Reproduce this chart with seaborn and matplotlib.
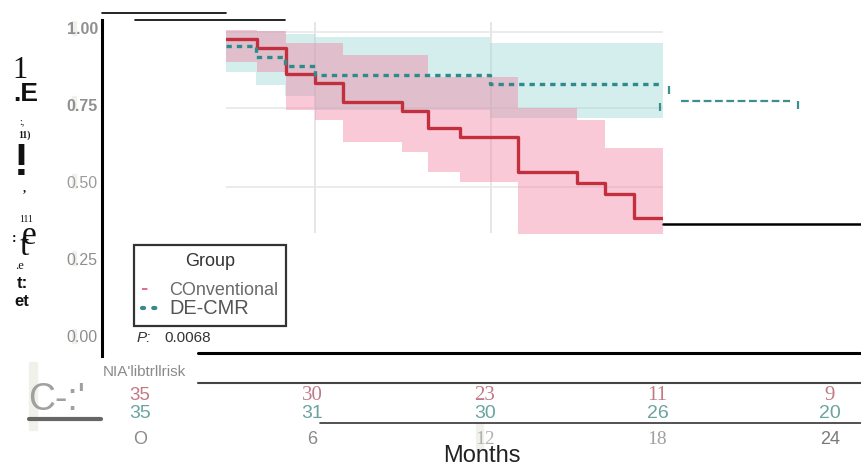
import matplotlib
matplotlib.use("Agg")
import matplotlib.pyplot as plt
from matplotlib.lines import Line2D
from matplotlib.patches import Rectangle
from matplotlib.transforms import blended_transform_factory
import seaborn as sns
import pandas as pd

# ---------------- data ----------------
groups = ["COnventional", "DE-CMR"]

conv_time = [3.0, 4.07, 5.08, 6.09, 7.06, 9.11, 10.02, 11.13, 13.15, 15.2, 16.17, 17.18, 18.2]
conv_surv = [0.964, 0.935, 0.851, 0.821, 0.761, 0.731, 0.674, 0.647, 0.532, 0.498, 0.460, 0.383, 0.383]
conv_upper = [0.994, 0.99, 0.951, 0.951, 0.912, 0.912, 0.84, 0.84, 0.74, 0.70, 0.61, 0.61, 0.61]
conv_lower = [0.89, 0.857, 0.734, 0.701, 0.63, 0.597, 0.532, 0.50, 0.30, 0.28, 0.25, 0.22, 0.22]

decmr_time = [3.0, 4.03, 5.04, 6.09, 12.17, 18.2]
decmr_surv = [0.942, 0.906, 0.877, 0.847, 0.818, 0.818]
decmr_upper = [0.99, 0.99, 0.98, 0.972, 0.951, 0.951]
decmr_lower = [0.857, 0.815, 0.78, 0.735, 0.708, 0.708]

decmr_tail_time = [18.8, 22.6]
decmr_tail_surv = [0.763, 0.763]
decmr_censor_time = [18.1, 18.4, 22.9]
decmr_censor_surv = [0.745, 0.80, 0.75]

risk_times = [0, 6, 12, 18, 24]
conv_risk = [35, 30, 23, 11, 9]
decmr_risk = [35, 31, 30, 26, 20]
xtick_labels = ["O", "6", "12", "18", "24"]
yticks = [0.0, 0.25, 0.5, 0.75, 1.0]
ytick_labels = ["0.00", "0.25", "0.50", "0.75", "1.00"]
p_value = "0.0068"

RED = "#c2303f"
TEAL = "#2e8b8b"

sns.set_theme(style="white")
plt.rcParams["font.family"] = ["Liberation Sans", "DejaVu Sans"]

W, H = 861, 466


def fx(px):
    return px / W


def fy(py):
    return 1 - py / H


fig = plt.figure(figsize=(W / 100, H / 100), dpi=100)
fig.patch.set_facecolor("white")

ax = fig.add_axes([fx(102), fy(356), (861 - 102) / W, (356 - 20) / H])
ax.set_facecolor("none")
ax.set_xlim(-1.3217, 25.078)
ax.set_ylim(-0.0649, 1.026)
for side in ["top", "right", "bottom"]:
    ax.spines[side].set_visible(False)
ax.spines["left"].set_color("black")
ax.spines["left"].set_linewidth(2.2)

# inset panel holding the curves
x0, x1 = conv_time[0], conv_time[-1]
y0, y1 = 0.334, 1.042
clip = Rectangle((x0, y0), x1 - x0, y1 - y0, transform=ax.transData)

ax.vlines([6.1, 12.2], y0, 1.02, color="#e2e2e2", lw=1.2, zorder=0)
ax.hlines([0.987, 0.74, 0.484], x0, x1, color="#e8e8e8", lw=1.2, zorder=0)
ax.hlines([y1], x0, x1, color="#8c8c8c", lw=1.5, zorder=1)

band_t = ax.fill_between(decmr_time, decmr_lower, decmr_upper, step="post",
                         color="#9ad6d6", alpha=0.42, lw=0, zorder=2)
band_c = ax.fill_between(conv_time, conv_lower, conv_upper, step="post",
                         color="#f57fa0", alpha=0.42, lw=0, zorder=2)
band_t.set_clip_path(clip)
band_c.set_clip_path(clip)

df = pd.concat([
    pd.DataFrame({"month": conv_time, "surv": conv_surv, "group": groups[0]}),
    pd.DataFrame({"month": decmr_time, "surv": decmr_surv, "group": groups[1]}),
])
sns.lineplot(data=df, x="month", y="surv", hue="group", style="group",
             palette={groups[0]: RED, groups[1]: TEAL},
             dashes={groups[0]: "", groups[1]: (1.6, 1.5)},
             estimator=None, sort=False, drawstyle="steps-post",
             lw=2.4, legend=False, ax=ax, zorder=3)
for ln in ax.lines[-2:]:
    ln.set_clip_path(clip)

ax.plot(decmr_tail_time, decmr_tail_surv, color="#3d8f8f", lw=1.6,
        ls=(0, (3.5, 1.6)), zorder=3)
ax.scatter(decmr_censor_time, decmr_censor_surv, marker="|", s=30,
           color="#3d8f8f", linewidths=1.6, zorder=3)

ax.set_xlabel("")
ax.set_ylabel("")

# y axis ticks
ax.set_yticks(yticks, labels=ytick_labels)
ax.tick_params(axis="y", length=0, pad=3)
for lab, txt in zip(ax.get_yticklabels(), ytick_labels):
    lab.set_fontsize(11.5)
    lab.set_color("#8e8e8e")
    if txt in ("1.00", "0.75"):
        lab.set_fontweight("bold")
        lab.set_color("#909090")
    if txt == "0.50":
        lab.set_color("#9c9c9c")

# x axis ticks
ax.set_xticks(risk_times, labels=xtick_labels)
ax.tick_params(axis="x", length=0, pad=54)
xt_style = [("Liberation Sans", "#8a8a8a"), ("Liberation Sans", "#8a8a8a"),
            ("Liberation Serif", "#b0b0b0"), ("Liberation Serif", "#a0a0a0"),
            ("Liberation Sans", "#7a7a7a")]
for lab, (fam, col) in zip(ax.get_xticklabels(), xt_style):
    lab.set_fontfamily(fam)
    lab.set_color(col)
    lab.set_fontsize(14 if "Serif" in fam else 13)
ax.set_xlabel("Months", fontsize=17, color="#222222", labelpad=-2)

# numbers at risk
trans = blended_transform_factory(ax.transData, fig.transFigure)
for i, (t, n) in enumerate(zip(risk_times, conv_risk)):
    fam = "Liberation Sans" if i == 0 else "Liberation Serif"
    ax.text(t, fy(396), str(n), transform=trans, ha="center", va="center",
            fontsize=13.5 if i == 0 else 15, family=fam, color="#c27a86")
for t, n in zip(risk_times, decmr_risk):
    ax.text(t, fy(413), str(n), transform=trans, ha="center", va="center",
            fontsize=14, color="#6aa4a0")

fig.text(fx(103), fy(372), "NIA'libtrllrisk", fontsize=11, color="#8a8a8a",
         va="center", ha="left")

# p-value
fig.text(fx(137), fy(338), "P:", fontsize=11, style="italic", color="#333333", va="center")
fig.text(fx(164), fy(338), p_value, fontsize=11, color="#333333", va="center")

# legend
handles = [Line2D([], [], color="#e0607a", lw=1.3, ls=(0, (3, 30))),
           Line2D([], [], color="#3a8a88", lw=3.0, ls=(0, (0.5, 2.2)),
                  dash_capstyle="round")]
leg = ax.legend(handles, groups, title="Group", loc="upper left",
                bbox_to_anchor=(fx(134), fy(245)), bbox_transform=fig.transFigure,
                borderaxespad=0, borderpad=0.42, labelspacing=0.0,
                handletextpad=0.55, handlelength=1.0, fancybox=False,
                title_fontsize=13, fontsize=13)
try:
    leg._legend_box.sep = 9
except AttributeError:
    pass
leg.get_frame().set_edgecolor("black")
leg.get_frame().set_linewidth(1.6)
leg.get_title().set_color("#333333")
leg.get_texts()[0].set_color("#6a6a6a")
leg.get_texts()[1].set_color("#555555")
leg.get_texts()[1].set_fontsize(14.4)

# stray stroke and label fragments along the left edge
frags = [
    ("1", 20, 70, 22, "Liberation Serif", "normal"),
    (".E", 26, 94, 19, "Liberation Sans", "bold"),
    (":,", 22, 122, 7, "Liberation Serif", "normal"),
    ("11)", 24, 135, 7, "Liberation Serif", "bold"),
    ("!", 21, 163, 32, "Liberation Sans", "bold"),
    (",", 24, 188, 9, "Liberation Serif", "bold"),
    ("111", 26, 219, 7, "Liberation Serif", "normal"),
    ("e", 29, 236, 24, "Liberation Serif", "normal"),
    ("t", 24, 247, 24, "Liberation Serif", "normal"),
    (":", 14, 238, 10, "Liberation Serif", "bold"),
    (".e", 20, 266, 9, "Liberation Serif", "normal"),
    ("t:", 22, 284, 12, "Liberation Sans", "bold"),
    ("et", 22, 302, 12, "Liberation Sans", "bold"),
]
for s, px, py, size, fam, wt in frags:
    fig.text(fx(px), fy(py), s, fontsize=size, family=fam, fontweight=wt,
             color="#111111", ha="center", va="center")

fig.text(fx(28), fy(400), "C-:'", fontsize=27, color="#a0a0a0", ha="left", va="center")

# faint highlight strips
for px, py, w, h in [(72, 21, 4, 14), (72, 96, 4, 14), (72, 174, 4, 14),
                     (72, 251, 4, 14), (72, 329, 4, 14), (29, 362, 8, 68),
                     (476, 423, 7, 27)]:
    fig.patches.append(Rectangle((fx(px), fy(py + h)), w / W, h / H,
                                 transform=fig.transFigure, color="#f1f1ec",
                                 zorder=-1))

# ruled lines
for px0, px1, py, lw, col in [(102, 226, 13, 1.2, "black"), (135, 285, 20, 1.2, "black"),
                              (663, 861, 224, 1.8, "black"), (198, 861, 352.7, 2.2, "black"),
                              (198, 861, 382.7, 1.5, "#444444"), (320, 861, 422.7, 1.2, "#333333"),
                              (29, 101, 418.5, 3.0, "#666666")]:
    fig.add_artist(Line2D([fx(px0), fx(px1)], [fy(py), fy(py)], lw=lw, color=col,
                          transform=fig.transFigure))

fig.savefig("out.png", dpi=100)
